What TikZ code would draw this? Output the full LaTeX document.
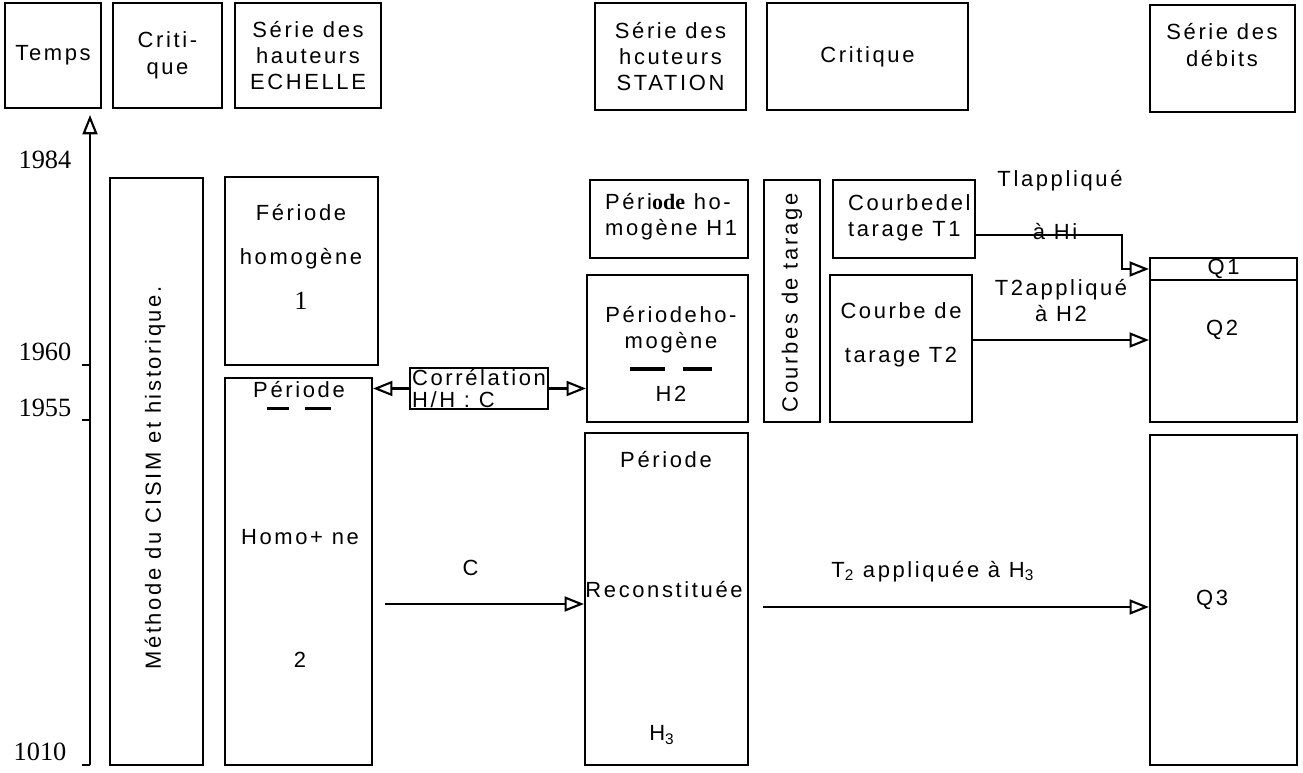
\documentclass[tikz,border=0pt]{standalone}
\usepackage{fontspec}
\newfontfamily\plotfont{Liberation Sans}[LetterSpace=12]
\newfontfamily\yearfont{Liberation Serif}
\usetikzlibrary{arrows.meta, positioning, calc}
\tikzset{
  box/.style={rectangle, draw, line width=1.2pt},
  txt/.style={font=\plotfont\fontsize{12.5}{15}\selectfont, align=center, inner sep=1pt},
  yr/.style={font=\yearfont\fontsize{15}{17}\selectfont, inner sep=0pt},
  arr/.style={-{Triangle[open, length=11pt, width=8.5pt]}, line width=1.2pt},
}
\newcommand{\bars}[3]{\rule[0.4ex]{#1}{1.8pt}\hspace{#2}\rule[0.4ex]{#3}{1.8pt}}

\begin{document}
\begin{tikzpicture}[x=0.02cm, y=-0.02cm]
  \useasboundingbox (0,0) rectangle (1303,773);

  % en-tetes
  \node[box, txt, minimum width=1.92cm, minimum height=2.10cm] (temps)   at (53,55.5)    {Temps};
  \node[box, txt, minimum width=2.18cm, minimum height=2.10cm] (crit1)   at (167.5,55.5) {Criti-\\que};
  \node[box, txt, minimum width=2.92cm, minimum height=2.10cm] (echelle) at (308,55.5)   {Série des\\hauteurs\\ECHELLE};
  \node[box, txt, minimum width=3.02cm, minimum height=2.14cm] (station) at (670.5,56.5) {Série des\\hcuteurs\\STATION};
  \node[box, txt, minimum width=4.02cm, minimum height=2.14cm] (crit2)   at (867.5,56.5) {Critique};
  \node[box, minimum width=2.90cm, minimum height=2.14cm] (debits) at (1222.5,58.5) {};
  \node[txt] (debitstxt) at (1222,45) {Série des\\débits};

  % axe du temps
  \coordinate (tbot) at (90,765);
  \coordinate (ttop) at (90,115);
  \draw[arr] (tbot) -- (ttop);
  \foreach \y in {365,420,765}
    \draw[line width=1.2pt] (82,\y) -- (90,\y);
  \node[yr] (y1984) at (45,160) {1984};
  \node[yr] (y1960) at (45,352) {1960};
  \node[yr] (y1955) at (45,408) {1955};
  \node[yr] (y1010) at (40,752) {1010};

  % methode
  \node[box, minimum width=1.86cm, minimum height=11.74cm] (methode) at (156.5,471.5) {};
  \node[txt, rotate=90] (methtxt) at (155,478) {Méthode du CISIM et historique.};

  % serie ECHELLE
  \node[box, minimum width=3.06cm, minimum height=3.76cm] (per1) at (301.5,271) {};
  \node[txt] (per1txt) at (301,257) {Fériode\\[10pt]homogène\\[11pt]{\yearfont\fontsize{15}{17}\selectfont 1}};
  \node[box, minimum width=2.94cm, minimum height=7.74cm] (per2) at (298.5,571.5) {};
  \node[txt] (per2a) at (299,398) {Période\\[-5pt]\bars{12.5pt}{9pt}{15pt}};
  \node[txt] (per2b) at (300,537) {Homo+ ne};
  \node[txt] (per2c) at (300,660) {2};

  \node[box, txt, align=left, inner sep=0.5pt, minimum width=2.76cm,
        font=\plotfont\fontsize{12.5}{13}\selectfont] (corr) at (479,388.5) {Corrélation\\H/H : C};

  % serie STATION
  \node[box, minimum width=3.16cm, minimum height=1.56cm] (h1) at (669,219) {};
  \node[txt, align=left, anchor=west] (h1txt) at (603,217) {Péri{\yearfont\bfseries ode} ho-\\mogène H1};
  \node[box, minimum width=3.22cm, minimum height=2.94cm] (h2) at (667.5,348.5) {};
  \node[txt] (h2txt) at (671,354) {Périodeho-\\mogène\\\bars{20pt}{10pt}{16.5pt}\\H2};
  \node[box, minimum width=3.26cm, minimum height=6.64cm] (h3) at (666.5,599) {};
  \node[txt] (h3a) at (666,460) {Période};
  \node[txt] (h3b) at (664,590) {Reconstituée};
  \node[txt] (h3c) at (662,735) {H\textsubscript{3}};

  % courbes de tarage
  \node[box, minimum width=1.12cm, minimum height=4.84cm] (ctar) at (792,301) {};
  \node[txt, rotate=90] (ctartxt) at (792,303) {Courbes de tarage};
  \node[box, minimum width=2.84cm, minimum height=1.56cm] (t1) at (904,219) {};
  \node[txt, align=left, anchor=west] (t1txt) at (846,218) {Courbedel\\tarage T1};
  \node[box, minimum width=2.84cm, minimum height=2.94cm] (t2) at (901,348.5) {};
  \node[txt] (t2txt) at (901,335) {Courbe de\\[10pt]tarage T2};

  % serie des debits
  \node[box, txt, minimum width=2.94cm, minimum height=0.44cm, inner sep=0pt] (q1) at (1223.5,269) {Q1};
  \node[box, minimum width=2.94cm, minimum height=2.84cm] (q2) at (1223.5,351) {};
  \node[txt] (q2txt) at (1222,330) {Q2};
  \node[box, minimum width=2.94cm, minimum height=6.60cm] (q3) at (1223.5,600) {};
  \node[txt] (q3txt) at (1212,600) {Q3};

  % fleches
  \draw[arr] (corr.west) -- (corr.west -| per2.east);
  \draw[arr] (corr.east) -- (corr.east -| h2.west);

  \coordinate (cstart) at (385,604);
  \draw[arr] (cstart) -- node[txt, above=0.5cm, pos=0.43] (clbl) {C} (cstart -| h3.west);

  \coordinate (tstart) at (763,607);
  \draw[arr] (tstart) -- node[txt, above=0.45cm, pos=0.44] (t3lbl) {T\textsubscript{2} appliquée à H\textsubscript{3}} (tstart -| q3.west);

  \draw[arr] (t2.east |- 0,340) -- node[txt, above=0.3cm] (t2lbl) {T2appliqué\\à H2} (q2.west |- 0,340);

  \node[txt] (t1lbla) at (1060,181) {Tlappliqué};
  \node[txt] (t1lblb) at (1055,232) {à Hi};
  \draw[arr] (t1.east |- 0,235) -- (1122,235) |- (q1.west);
\end{tikzpicture}
\end{document}
